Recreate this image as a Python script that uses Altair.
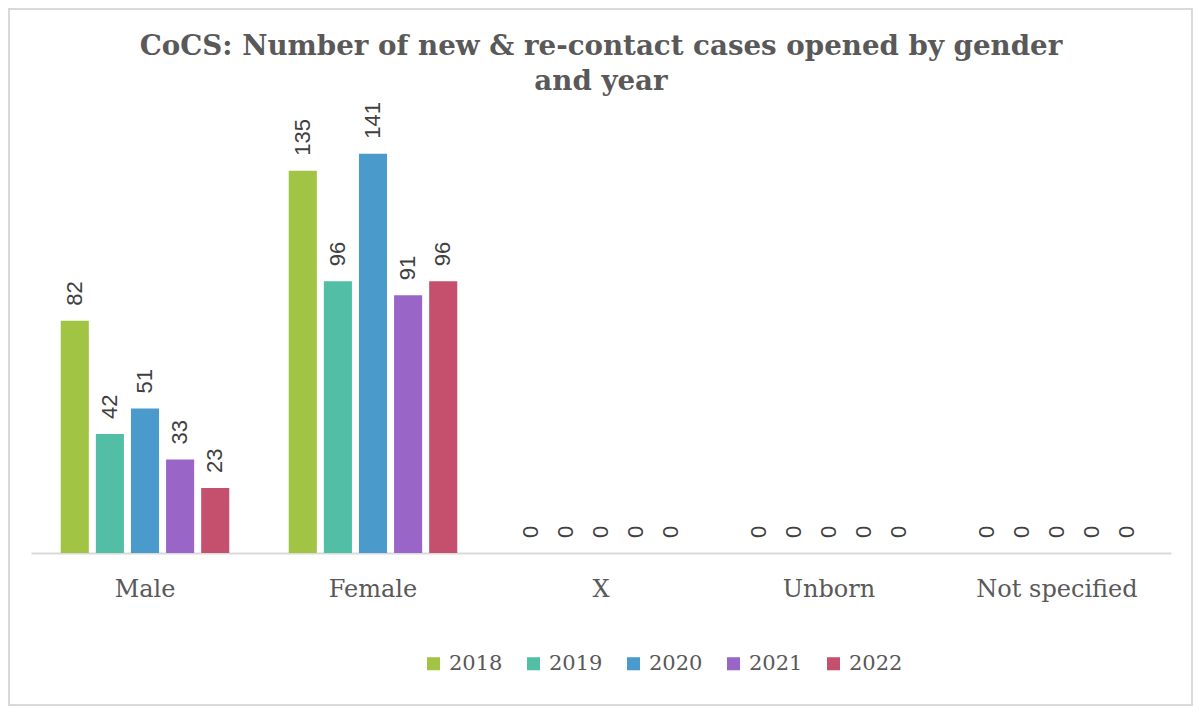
import altair as alt
import pandas as pd

categories = ["Male", "Female", "X", "Unborn", "Not specified"]
years = ["2018", "2019", "2020", "2021", "2022"]
v2018 = [82, 135, 0, 0, 0]
v2019 = [42, 96, 0, 0, 0]
v2020 = [51, 141, 0, 0, 0]
v2021 = [33, 91, 0, 0, 0]
v2022 = [23, 96, 0, 0, 0]
colors = ["#A2C444", "#51BEA5", "#4A9ACB", "#9966C8", "#C4506E"]

series = [v2018, v2019, v2020, v2021, v2022]
rows = []
for y, vals in zip(years, series):
    for c, v in zip(categories, vals):
        rows.append({"gender": c, "year": y, "value": v})
df = pd.DataFrame(rows)

serif = "DejaVu Serif"
W, H = 1140, 453

x = alt.X("gender:N", sort=categories, title=None,
          scale=alt.Scale(paddingInner=0.23, paddingOuter=0.115),
          axis=alt.Axis(labelAngle=0, labelFont=serif, labelFontSize=24,
                        labelColor="#595959", ticks=False, labelPadding=24,
                        domainColor="#D9D9D9", domainWidth=2, grid=False))
xo = alt.XOffset("year:N", sort=years,
                 scale=alt.Scale(paddingInner=0.2, paddingOuter=0.1))
y = alt.Y("value:Q", scale=alt.Scale(domain=[0, 160]), axis=None)

bars = alt.Chart(df).mark_bar().encode(
    x=x, xOffset=xo, y=y,
    color=alt.Color("year:N", sort=years,
                    scale=alt.Scale(domain=years, range=colors),
                    legend=alt.Legend(title=None, orient="none", direction="horizontal",
                                      legendX=392, legendY=553,
                                      symbolType="square", symbolSize=170,
                                      symbolStrokeWidth=0, labelFont=serif,
                                      labelFontSize=21, labelColor="#595959",
                                      labelOffset=5, columnPadding=20)),
)

labels = alt.Chart(df).mark_text(
    angle=270, align="left", baseline="middle", dx=15,
    font="Liberation Sans", fontSize=22, color="#404040",
).encode(x=x, xOffset=xo, y=y, text=alt.Text("value:Q"))

border = alt.Chart(df).mark_rect(fill=None, stroke="#D9D9D9", strokeWidth=1.5).encode(
    x=alt.value(-22), x2=alt.value(W + 21),
    y=alt.value(-91), y2=alt.value(H + 152),
)

chart = alt.layer(border, bars, labels).properties(
    width=W, height=H,
    title=alt.Title(["CoCS: Number of new & re-contact cases opened by gender", "and year"],
                    font=serif, fontSize=27.7, fontWeight="bold", color="#595959",
                    lineHeight=35, anchor="middle", offset=10, dy=97),
    autosize=alt.AutoSizeParams(type="none"),
    padding={"left": 23, "top": 92, "right": 22, "bottom": 154},
).configure_view(stroke=None)

chart.save("out.html", embed_options={"renderer": "svg", "actions": False})
